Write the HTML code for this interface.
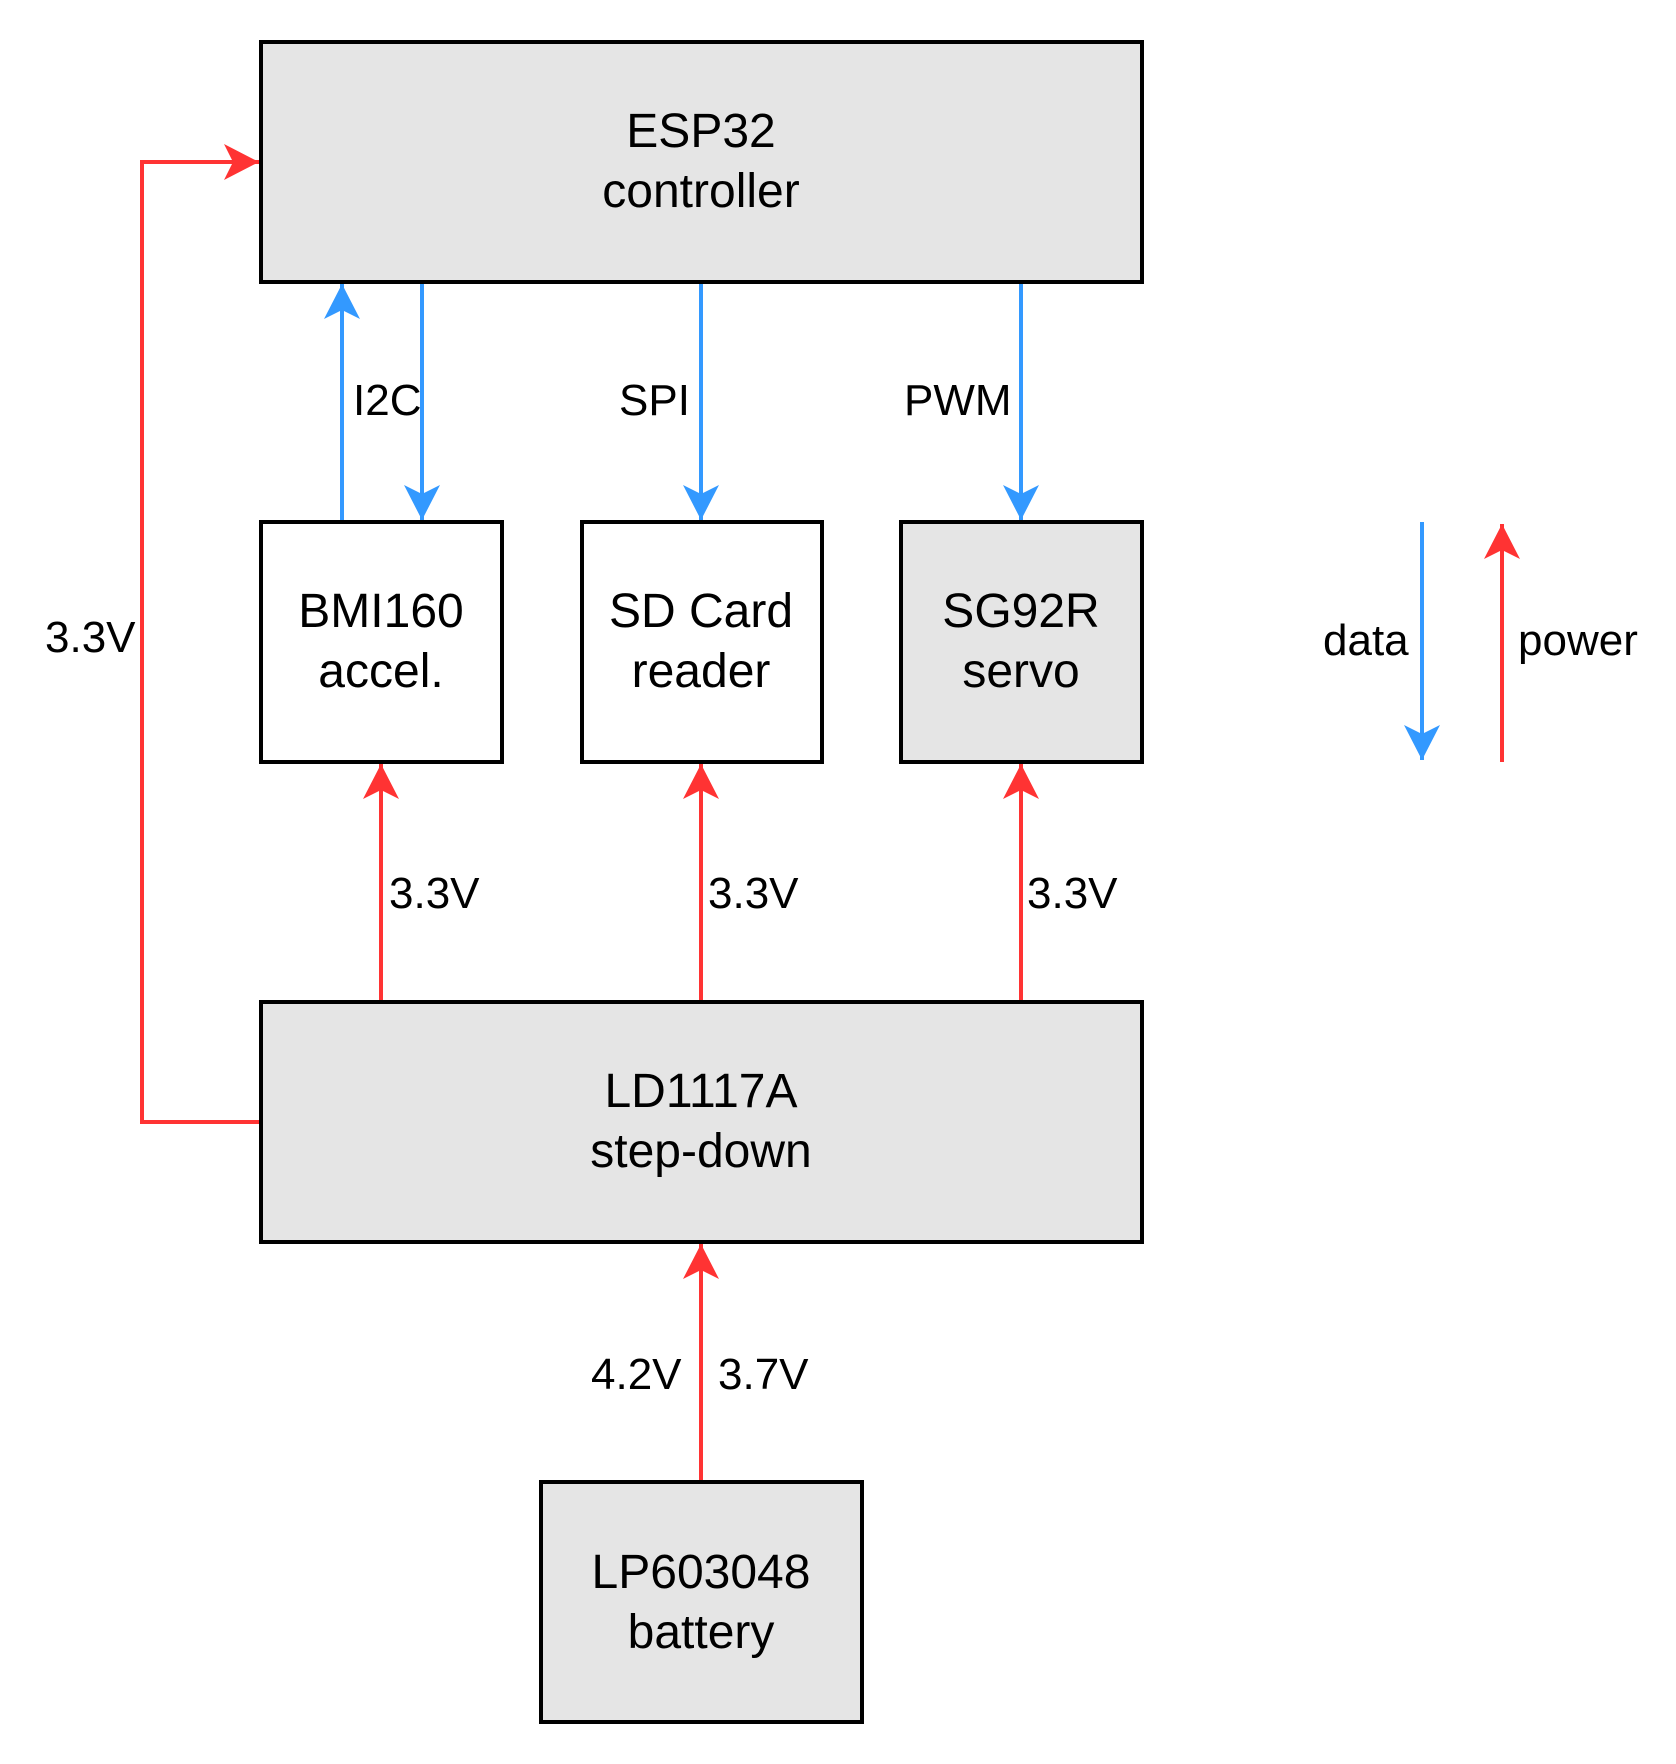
<!DOCTYPE html>
<html><head><meta charset="utf-8"><style>
html,body{margin:0;padding:0;background:#fff;}
svg{display:block;}
text{font-family:"Liberation Sans",Arial,sans-serif;fill:#000;}
.b{font-size:48px;text-anchor:middle;}
.l{font-size:44px;}
</style></head><body>
<svg width="1676" height="1764" viewBox="0 0 1676 1764" xmlns="http://www.w3.org/2000/svg">
<defs>
<marker id="ab" markerUnits="userSpaceOnUse" markerWidth="40" markerHeight="40" refX="35" refY="18" orient="auto" viewBox="0 0 40 36">
<path d="M35,18 L0,0 L9,18 L0,36 Z" fill="#3399ff"/></marker>
<marker id="ar" markerUnits="userSpaceOnUse" markerWidth="40" markerHeight="40" refX="35" refY="18" orient="auto" viewBox="0 0 40 36">
<path d="M35,18 L0,0 L9,18 L0,36 Z" fill="#ff3333"/></marker>
</defs>
<g stroke="#000" stroke-width="4">
<rect x="261" y="42" width="881" height="240" fill="#e5e5e5"/>
<rect x="261" y="522" width="241" height="240" fill="#fff"/>
<rect x="582" y="522" width="240" height="240" fill="#fff"/>
<rect x="901" y="522" width="241" height="240" fill="#e5e5e5"/>
<rect x="261" y="1002" width="881" height="240" fill="#e5e5e5"/>
<rect x="541" y="1482" width="321" height="240" fill="#e5e5e5"/>
</g>
<g stroke="#3399ff" stroke-width="4" fill="none">
<line x1="342" y1="520" x2="342" y2="284" marker-end="url(#ab)"/>
<line x1="422" y1="284" x2="422" y2="520" marker-end="url(#ab)"/>
<line x1="701" y1="284" x2="701" y2="520" marker-end="url(#ab)"/>
<line x1="1021" y1="284" x2="1021" y2="520" marker-end="url(#ab)"/>
<line x1="1422" y1="522" x2="1422" y2="760" marker-end="url(#ab)"/>
</g>
<g stroke="#ff3333" stroke-width="4" fill="none">
<line x1="381" y1="1000" x2="381" y2="764" marker-end="url(#ar)"/>
<line x1="701" y1="1000" x2="701" y2="764" marker-end="url(#ar)"/>
<line x1="1021" y1="1000" x2="1021" y2="764" marker-end="url(#ar)"/>
<line x1="701" y1="1480" x2="701" y2="1244" marker-end="url(#ar)"/>
<polyline points="259,1122 142,1122 142,162 259,162" marker-end="url(#ar)"/>
<line x1="1502" y1="762" x2="1502" y2="524" marker-end="url(#ar)"/>
</g>
<text class="b" x="701" y="147">ESP32</text>
<text class="b" x="701" y="207">controller</text>
<text class="b" x="381" y="627">BMI160</text>
<text class="b" x="381" y="687">accel.</text>
<text class="b" x="701" y="627">SD Card</text>
<text class="b" x="701" y="687">reader</text>
<text class="b" x="1021" y="627">SG92R</text>
<text class="b" x="1021" y="687">servo</text>
<text class="b" x="701" y="1107">LD1117A</text>
<text class="b" x="701" y="1167">step-down</text>
<text class="b" x="701" y="1588">LP603048</text>
<text class="b" x="701" y="1648">battery</text>
<text class="l" x="353" y="415">I2C</text>
<text class="l" x="619" y="415">SPI</text>
<text class="l" x="904" y="415">PWM</text>
<text class="l" x="45" y="652">3.3V</text>
<text class="l" x="389" y="908">3.3V</text>
<text class="l" x="708" y="908">3.3V</text>
<text class="l" x="1027" y="908">3.3V</text>
<text class="l" x="591" y="1389">4.2V</text>
<text class="l" x="718" y="1389">3.7V</text>
<text class="l" x="1323" y="655">data</text>
<text class="l" x="1518" y="655">power</text>
</svg>
</body></html>
